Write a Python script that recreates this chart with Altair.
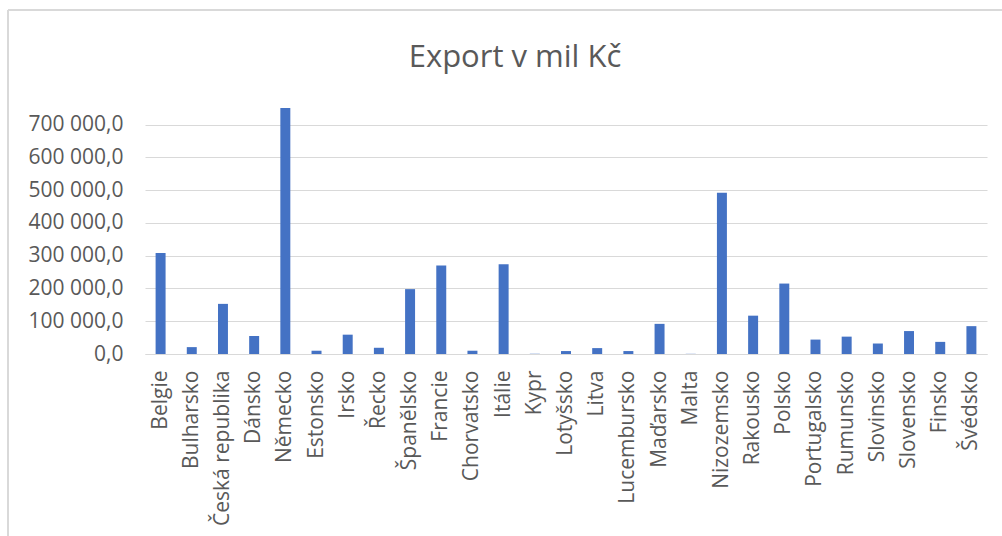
import altair as alt
import pandas as pd

TITLE = "Export v mil Kč"
countries = ["Belgie", "Bulharsko", "Česká republika", "Dánsko", "Německo", "Estonsko",
             "Irsko", "Řecko", "Španělsko", "Francie", "Chorvatsko", "Itálie", "Kypr",
             "Lotyšsko", "Litva", "Lucembursko", "Maďarsko", "Malta", "Nizozemsko",
             "Rakousko", "Polsko", "Portugalsko", "Rumunsko", "Slovinsko", "Slovensko",
             "Finsko", "Švédsko"]
values = [308000, 21000, 153000, 55000, 751000, 10000,
          59000, 19000, 198000, 270000, 10000, 274000, 700,
          9000, 18000, 9000, 92000, 500, 492000,
          117000, 215000, 44000, 53000, 32000, 70000,
          37000, 85000]
y_ticks = [0, 100000, 200000, 300000, 400000, 500000, 600000, 700000]

df = pd.DataFrame({"country": countries, "value": values})

FONT = "Open Sans"
GRAY = "#595959"
LINE = "#d9d9d9"

bars = alt.Chart(df).mark_bar(color="#4472C4").encode(
    x=alt.X("country:N", sort=countries,
            scale=alt.Scale(paddingInner=0.68, paddingOuter=0.34),
            axis=alt.Axis(title=None, labelAngle=-90, labelAlign="right",
                          labelBaseline="middle", labelPadding=16, ticks=False,
                          domain=True, domainColor=LINE, domainWidth=1.2,
                          labelFont=FONT, labelFontSize=21, labelColor=GRAY,
                          labelOverlap=False)),
    y=alt.Y("value:Q", scale=alt.Scale(domain=[0, 760000], nice=False),
            axis=alt.Axis(title=None, values=y_ticks, ticks=False, domain=False,
                          grid=True, gridColor=LINE, gridWidth=1.1,
                          labelFont=FONT, labelFontSize=21, labelColor=GRAY,
                          labelPadding=22,
                          labelExpr="replace(replace(format(datum.value, ',.1f'), /,/g, ' '), '.', ',')")),
)

title = alt.Chart(pd.DataFrame({"t": [TITLE]})).mark_text(
    font=FONT, fontSize=31, color=GRAY, baseline="alphabetic", align="center"
).encode(text="t:N", x=alt.value(370), y=alt.value(-38))

border_left = alt.Chart(pd.DataFrame({"a": [0]})).mark_rule(color=LINE, strokeWidth=2).encode(
    x=alt.value(-137), y=alt.value(-95), y2=alt.value(440))
border_top = alt.Chart(pd.DataFrame({"a": [0]})).mark_rule(color=LINE, strokeWidth=2).encode(
    x=alt.value(-137), x2=alt.value(870), y=alt.value(-95))

chart = alt.layer(border_left, border_top, bars, title).properties(
    width=842, height=249,
    autosize=alt.AutoSizeParams(type="none"),
    padding={"left": 145, "top": 105, "right": 15, "bottom": 182},
    background="white",
).configure_view(stroke=None)

chart.save("out.html", embed_options={"renderer": "svg", "actions": False})
